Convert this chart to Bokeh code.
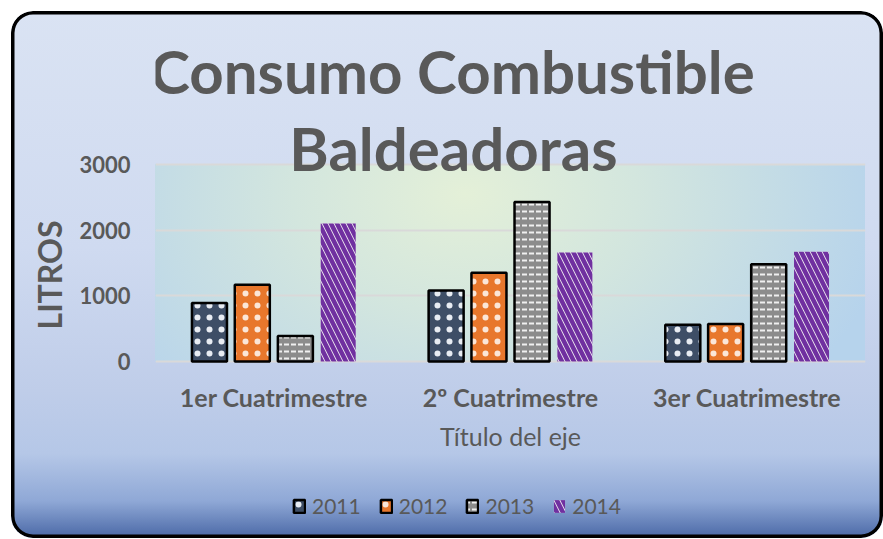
import math
from bokeh.plotting import figure
from bokeh.models import ColumnDataSource, FactorRange, Range1d, FixedTicker, Label
from bokeh.transform import dodge
from bokeh.embed import file_html
from bokeh.resources import INLINE

cats = ["1er Cuatrimestre", "2º Cuatrimestre", "3er Cuatrimestre"]
years = ["2011", "2012", "2013", "2014"]
v2011 = [890, 1080, 560]
v2012 = [1170, 1350, 570]
v2013 = [390, 2430, 1480]
v2014 = [2100, 1660, 1670]
y_ticks = [0, 1000, 2000, 3000]
title_lines = ["Consumo Combustible", "Baldeadoras"]
y_title = "LITROS"
x_title = "Título del eje"

FONT = "Lato"
GRAY = "#595959"

source = ColumnDataSource(data=dict(cat=cats, y2011=v2011, y2012=v2012, y2013=v2013, y2014=v2014))

# layout (pixels): the Bokeh frame spans the whole chart height; the plot area
# (0..3000) occupies a band of it.
W, H = 872, 527
FL, FR = 144, 18
FW = W - FL - FR
PA_TOP, PA_H = 153, 197          # plot-area band inside the frame
PA_BOTTOM_GAP = H - PA_TOP - PA_H
px_per_unit = PA_H / 3000.0
y_start = -PA_BOTTOM_GAP / px_per_unit
y_end = 3000 + PA_TOP / px_per_unit

bg = (
    f"radial-gradient(ellipse 430px 300px at 310px 30px, #e4f0d8 0%, #d3e6de 40%, #b6d3ec 100%) "
    f"{FL}px {PA_TOP}px / {FW}px {PA_H}px no-repeat, "
    "linear-gradient(to bottom, #dae3f3 0%, #cfdaf0 45%, #bfcde9 72%, #b5c7e7 84%, #8fa8d6 93%, #4a68a6 100%)"
)

p = figure(
    title=None,
    x_range=FactorRange(*cats, range_padding=0),
    y_range=Range1d(y_start, y_end),
    frame_width=FW, frame_height=H,
    min_border_left=FL, min_border_right=FR, min_border_top=0, min_border_bottom=0,
    output_backend="svg", toolbar_location=None,
    border_fill_alpha=0, background_fill_alpha=0, outline_line_color=None,
    styles={
        "background": bg,
        "border-radius": "22px",
        "box-shadow": "inset 0 0 0 3.5px #000",
        "margin": "11px 0 0 11px",
    },
)

w = 0.148
specs = [
    ("y2011", -0.272, dict(fill_color="#3e4e66", line_color="#000000", line_width=2.5,
                           hatch_pattern="dot", hatch_color="#e8ecf2", hatch_scale=12, hatch_weight=0.6)),
    ("y2012", -0.091, dict(fill_color="#e8772c", line_color="#000000", line_width=2.5,
                           hatch_pattern="dot", hatch_color="#fbe6d8", hatch_scale=12, hatch_weight=0.6)),
    ("y2013", 0.091, dict(fill_color="#8c8c8c", line_color="#000000", line_width=2.5,
                          hatch_pattern="horizontal_dash", hatch_color="#f0f0f0", hatch_scale=7, hatch_weight=2)),
    ("y2014", 0.272, dict(fill_color="#ebe6ee", line_color=None,
                          hatch_pattern="left_diagonal_line", hatch_color="#7030a0", hatch_scale=12, hatch_weight=4.5)),
]
for (col, off, style), yr in zip(specs, years):
    p.vbar(x=dodge("cat", off, range=p.x_range), top=col, width=w, source=source,
           legend_label=yr, **style)

# y axis
p.yaxis.ticker = FixedTicker(ticks=y_ticks)
p.yaxis.axis_line_color = None
p.yaxis.major_tick_line_color = None
p.yaxis.minor_tick_line_color = None
p.yaxis.major_tick_in = 0
p.yaxis.major_tick_out = 0
p.yaxis.major_label_standoff = 25
p.yaxis.major_label_text_font = FONT
p.yaxis.major_label_text_font_style = "bold"
p.yaxis.major_label_text_font_size = "22px"
p.yaxis.major_label_text_color = GRAY
p.yaxis.axis_label = y_title
p.yaxis.axis_label_text_font = FONT
p.yaxis.axis_label_text_font_style = "bold"
p.yaxis.axis_label_text_font_size = "32px"
p.yaxis.axis_label_text_color = GRAY
p.yaxis.axis_label_standoff = 7

# x axis drawn at y = 0
p.xaxis.fixed_location = 0
p.xaxis.axis_line_color = None
p.xaxis.major_tick_line_color = None
p.xaxis.major_tick_in = 0
p.xaxis.major_tick_out = 0
p.xaxis.major_label_standoff = 20
p.xaxis.major_label_text_font = FONT
p.xaxis.major_label_text_font_style = "bold"
p.xaxis.major_label_text_font_size = "25px"
p.xaxis.major_label_text_color = GRAY
p.xaxis.axis_label = x_title
p.xaxis.axis_label_text_font = FONT
p.xaxis.axis_label_text_font_style = "normal"
p.xaxis.axis_label_text_font_size = "25px"
p.xaxis.axis_label_text_color = GRAY
p.xaxis.axis_label_standoff = 6

p.xgrid.grid_line_color = None
p.ygrid.ticker = FixedTicker(ticks=y_ticks)
p.ygrid.grid_line_color = "#d9d9d9"
p.ygrid.grid_line_width = 2

# title lines
for txt, sx, sy in zip(title_lines, [297, 298], [468, 391]):
    p.add_layout(Label(x=sx, y=sy, x_units="screen", y_units="screen", text=txt,
                       text_align="center", text_baseline="alphabetic",
                       text_font=FONT, text_font_style="bold", text_font_size="60px",
                       text_color=GRAY))

lg = p.legend[0]
lg.orientation = "horizontal"
lg.location = (137, 20)
lg.background_fill_alpha = 0
lg.border_line_alpha = 0
lg.padding = 0
lg.margin = 0
lg.spacing = 18
lg.label_standoff = 6
lg.glyph_width = 14
lg.glyph_height = 16
lg.label_text_font = FONT
lg.label_text_font_size = "21px"
lg.label_text_color = GRAY

open("out.html", "w").write(file_html(p, INLINE))
